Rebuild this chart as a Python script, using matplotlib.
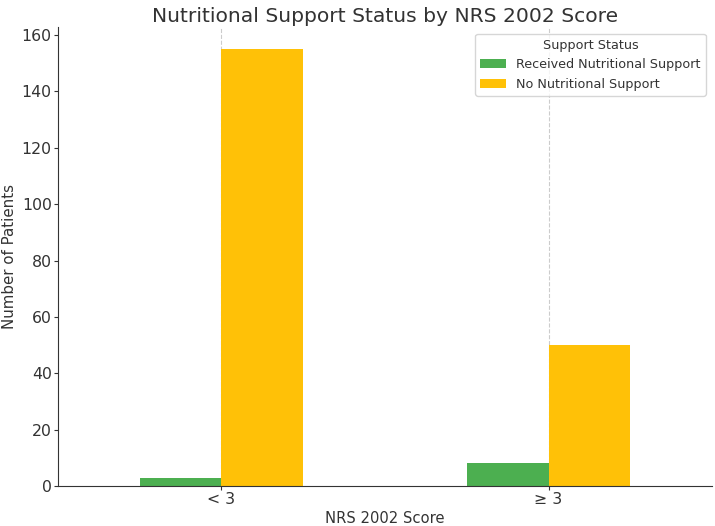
import matplotlib
matplotlib.use("Agg")
import matplotlib.pyplot as plt
import numpy as np

plt.rcParams["font.family"] = ["DejaVu Sans"]

categories = ["< 3", "≥ 3"]
received = [3, 8]
no_support = [155, 50]
series_names = ["Received Nutritional Support", "No Nutritional Support"]
colors = ["#4CAF50", "#FFC107"]

fig, ax = plt.subplots(figsize=(7.15, 5.26), dpi=100)
x = np.arange(len(categories))
w = 0.25
ax.bar(x - w/2, received, w, color=colors[0], label=series_names[0], zorder=2)
ax.bar(x + w/2, no_support, w, color=colors[1], label=series_names[1], zorder=2)

ax.set_xlim(-0.5, 1.5)
ax.set_ylim(0, max(no_support) * 1.05)
ax.set_xticks(x)
ax.set_xticklabels(categories)
ax.xaxis.grid(True, linestyle="--", color="#cccccc", linewidth=0.8, zorder=0)
ax.set_axisbelow(True)
for s in ["top", "right"]:
    ax.spines[s].set_visible(False)
ax.spines["left"].set_color("#333333")
ax.spines["bottom"].set_color("#333333")
ax.tick_params(labelsize=11.3, colors="#333333", pad=1.5, length=3)
ax.set_title("Nutritional Support Status by NRS 2002 Score", fontsize=14.6, color="#333333", pad=4)
ax.set_xlabel("NRS 2002 Score", fontsize=10.6, color="#333333", labelpad=3)
ax.set_ylabel("Number of Patients", fontsize=10.8, color="#333333", labelpad=3)
leg = ax.legend(title="Support Status", fontsize=9.2, title_fontsize=9.2, loc="upper right")
for t in leg.get_texts():
    t.set_color("#333333")
leg.get_title().set_color("#333333")

fig.subplots_adjust(left=0.081, right=0.996, top=0.948, bottom=0.076)
fig.savefig("out.png", dpi=100)
